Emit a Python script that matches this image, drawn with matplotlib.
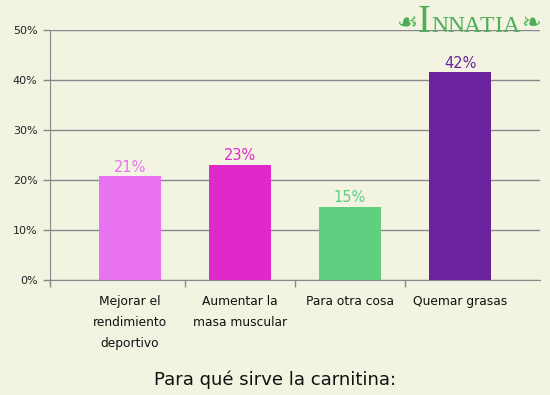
import matplotlib.pyplot as plt
import numpy as np

# datos de la encuesta
categorias = ['Mejorar el\nrendimiento\ndeportivo', 'Aumentar la\nmasa muscular',
              'Para otra cosa', 'Quemar grasas']
valores = [20.8, 23.0, 14.6, 41.6]
etiquetas = ['21%', '23%', '15%', '42%']
colores = ['#E872F0', '#DF29C9', '#5FD07F', '#6A239C']
yticks = [0, 10, 20, 30, 40, 50]

fondo = '#F3F3E2'
gris = '#888888'
verde = '#4CAF55'

fig = plt.figure(figsize=(5.5, 3.95), dpi=100, facecolor=fondo)
ax = fig.add_axes([50 / 550, 1 - 280 / 395, 490 / 550, 250 / 395])
ax.set_facecolor(fondo)

x = np.arange(len(categorias))
ax.bar(x, valores, width=0.56, color=colores, zorder=3)

for xi, v, t, c in zip(x, valores, etiquetas, colores):
    ax.text(xi, v + 0.3, t, ha='center', va='bottom', color=c, fontsize=10.5, zorder=4)

ax.set_ylim(0, 50)
ax.set_xlim(-0.726, 3.726)
ax.set_yticks(yticks)
ax.set_yticklabels([f'{t}%' for t in yticks], fontsize=8, color='#222222')
ax.yaxis.grid(True, color=gris, linewidth=1, zorder=0)

# ticks separadores en x
ax.set_xticks([-0.726, 0.5, 1.5, 2.5])
ax.set_xticklabels([])
ax.tick_params(axis='x', length=5, color=gris, width=1)
ax.tick_params(axis='y', length=5, color=gris, width=1, pad=4)

for xi, cat in zip(x, categorias):
    ax.text(xi, -3.0, cat, ha='center', va='top', fontsize=8.8, color='#111111',
            linespacing=1.8)

for s in ['top', 'right']:
    ax.spines[s].set_visible(False)
ax.spines['left'].set_color(gris)
ax.spines['bottom'].set_color(gris)
ax.spines['bottom'].set_bounds(-0.726, 3.726)

fig.text(0.5, 1 - 380 / 395, 'Para qué sirve la carnitina:', ha='center', va='center',
         fontsize=13, color='#111111')

# logo, letra por letra
base = 1 - 32 / 395
fig.text(424 / 550, base, 'I', ha='center', va='baseline', fontsize=28,
         color=verde, family='Liberation Serif')
for letra, px in zip('NNATIA', [440, 456, 472, 487, 498, 511]):
    fig.text(px / 550, base, letra, ha='center', va='baseline', fontsize=17,
             color=verde, family='Liberation Serif')
fig.text(408 / 550, 1 - 23 / 395, '\u2619', ha='center', va='center', fontsize=17, color=verde)
fig.text(531 / 550, 1 - 23 / 395, '\u2767', ha='center', va='center', fontsize=17, color=verde)

fig.savefig('out.png', dpi=100, facecolor=fondo)
